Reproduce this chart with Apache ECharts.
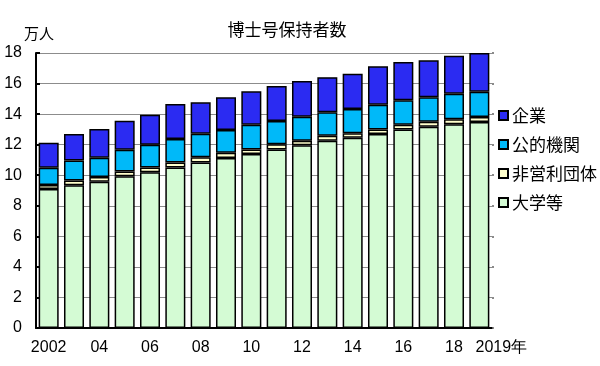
<!DOCTYPE html>
<html><head><meta charset="utf-8">
<script src="https://cdn.jsdelivr.net/npm/echarts@6/dist/echarts.min.js"></script>
<style>html,body{margin:0;padding:0;background:#fff}#c{width:600px;height:366px}</style>
</head><body><div id="c"></div>
<script>
const years = ['2002','2003','2004','2005','2006','2007','2008','2009','2010','2011','2012','2013','2014','2015','2016','2017','2018','2019'];
const xTickLabels = ['2002','','04','','06','','08','','10','','12','','14','','16','','18','2019年'];
const yTicks = [0,2,4,6,8,10,12,14,16,18];
const univ   = [9.10,9.34,9.58,9.93,10.19,10.51,10.84,11.13,11.39,11.69,11.96,12.26,12.46,12.70,13.00,13.17,13.33,13.48];
const npo    = [0.26,0.32,0.30,0.32,0.32,0.33,0.33,0.34,0.30,0.33,0.30,0.33,0.28,0.30,0.31,0.33,0.33,0.33];
const publicInst = [1.13,1.31,1.27,1.42,1.49,1.53,1.55,1.49,1.62,1.53,1.57,1.53,1.59,1.62,1.59,1.60,1.68,1.66];
const corp   = [1.64,1.73,1.87,1.90,1.96,2.29,2.05,2.14,2.18,2.29,2.33,2.30,2.31,2.51,2.51,2.42,2.48,2.53];
const names = ['大学等','非営利団体','公的機関','企業'];
const colors = ['#d4fbd4','#ffffcc','#00b9f9','#2b2bf2'];

const chart = echarts.init(document.getElementById('c'), null, {renderer:'canvas'});
const font = '"Liberation Sans", Arial, sans-serif';
const cjk = '"Noto Sans CJK JP", sans-serif';
function mk(i, data){
  return {name:names[i], type:'bar', stack:'t', data:data, barCategoryGap:'21%',
    itemStyle:{color:colors[i], borderColor:'#000', borderWidth:1.5}, animation:false};
}
chart.setOption({
  animation:false,
  title:{text:'博士号保持者数', left:282, top:16, textAlign:'center',
    textStyle:{fontFamily:cjk, fontSize:17, fontWeight:'normal', color:'#000'}},
  graphic:[{type:'text', left:24, top:26, style:{text:'万人', font:'15px '+cjk, fill:'#000'}}],
  legend:{orient:'vertical', left:493, top:102, itemWidth:9, itemHeight:9, itemGap:12, icon:'rect',
    data:['企業','公的機関','非営利団体','大学等'],
    textStyle:{fontFamily:cjk, fontSize:17, color:'#000', padding:[0,0,0,-1]}},
  grid:{left:36, right:108, top:53, bottom:38},
  xAxis:{type:'category', data:years,
    axisLine:{lineStyle:{color:'#000', width:2}},
    axisTick:{inside:true, length:4, interval:0, lineStyle:{color:'#000', width:1.5}},
    axisLabel:{interval:0, margin:12, fontFamily:font, fontSize:16, color:'#000',
      formatter:function(v, i){ return i===years.length-1 ? '{last|'+xTickLabels[i]+'}' : xTickLabels[i]; },
      rich:{last:{fontFamily:font, fontSize:16, color:'#000', padding:[0,0,0,44]}}}},
  yAxis:[{type:'value', min:yTicks[0], max:yTicks[yTicks.length-1], interval:2,
    axisLine:{show:true, lineStyle:{color:'#000', width:2}},
    axisTick:{show:true, inside:true, length:4, lineStyle:{color:'#000', width:2}},
    axisLabel:{margin:14, fontFamily:font, fontSize:16, color:'#000'},
    splitLine:{lineStyle:{color:'#8c8c8c', width:1.2}}},
   {type:'value', position:'right', min:0, max:18, interval:2,
    axisLine:{show:false}, axisLabel:{show:false}, splitLine:{show:false},
    axisTick:{show:true, inside:false, length:2, lineStyle:{color:'#666', width:1.5}}}],
  series:[mk(0,univ), mk(1,npo), mk(2,publicInst), mk(3,corp)]
});
</script></body></html>
